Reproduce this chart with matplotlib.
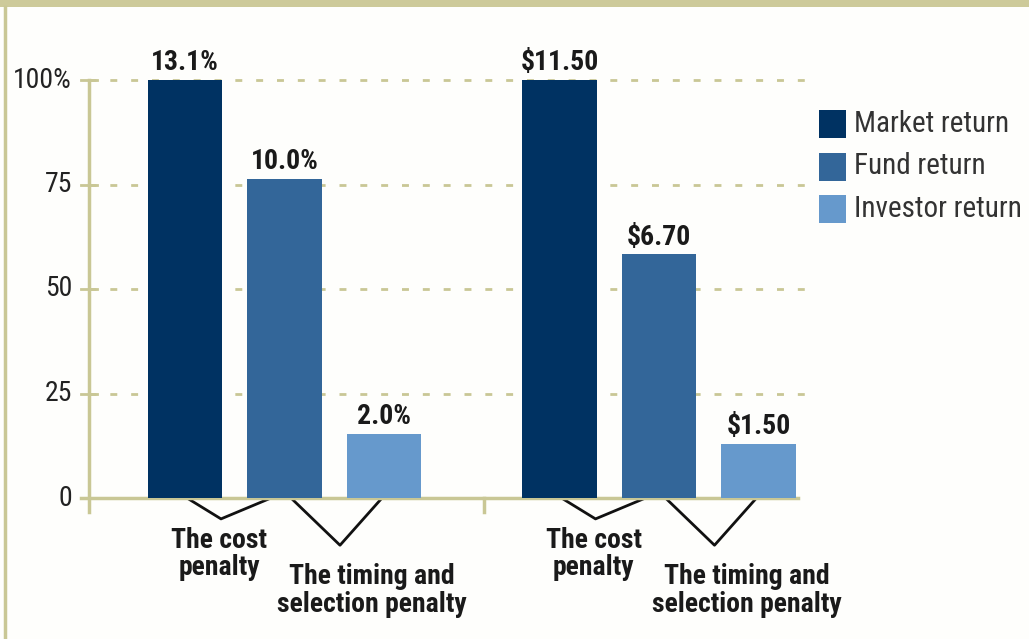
import matplotlib
matplotlib.use("Agg")
import matplotlib.pyplot as plt
from matplotlib.patches import Rectangle
import numpy as np

# indexed heights (market = 100)
series = ["Market return", "Fund return", "Investor return"]
pct_heights = [100, 76.3, 15.3]
pct_labels = ["13.1%", "10.0%", "2.0%"]
dollar_heights = [100, 58.3, 13.0]
dollar_labels = ["$11.50", "$6.70", "$1.50"]
yticks = [0, 25, 50, 75, 100]
ytick_labels = ["0", "25", "50", "75", "100%"]
penalties = ["The cost\npenalty", "The timing and\nselection penalty"]

colors = ["#003262", "#336699", "#6699cc"]
khaki = "#c9c795"
narrow = ["Roboto Condensed", "DejaVu Sans"]

fig = plt.figure(figsize=(10.29, 6.39), dpi=100)
fig.patch.set_facecolor("#fefefc")

# top band and left border
fig.add_artist(Rectangle((0, 1 - 7 / 639), 1, 7 / 639, transform=fig.transFigure,
                         color="#cdca9a", lw=0))
fig.add_artist(plt.Line2D([5 / 1029, 5 / 1029], [0, 1 - 7 / 639], transform=fig.transFigure,
                          color=khaki, lw=2.5))

ax = fig.add_axes((89 / 1029, 141 / 639, (810 - 89) / 1029, (498 - 80) / 639))
ax.set_facecolor("none")
ax.set_xlim(-0.96, 6.25)
ax.set_ylim(0, 100)
for s in ax.spines.values():
    s.set_visible(False)
ax.set_xticks([])
ax.set_yticks([])

group_x = [0.0, 3.745]
width = 0.745
for g, (heights, labels) in enumerate([(pct_heights, pct_labels), (dollar_heights, dollar_labels)]):
    xs = group_x[g] + np.arange(3) * 0.995
    ax.bar(xs, heights, width=width, color=colors, zorder=3)
    for x, h, lab in zip(xs, heights, labels):
        ax.text(x, h + 0.9, lab, ha="center", va="bottom", fontsize=20,
                fontweight="bold", family=narrow, color="#1a1a1a", zorder=4)

    # penalty brackets under the baseline
    x0 = group_x[g]
    ax.plot([x0 + 0.02, x0 + 0.36, x0 + 0.86], [0, -5, 0], color="#111111",
            lw=2, clip_on=False, zorder=2)
    ax.plot([x0 + 1.06, x0 + 1.55, x0 + 1.97], [0, -11.3, 0], color="#111111",
            lw=2, clip_on=False, zorder=2)
    ax.text(x0 + 0.34, -6.9, penalties[0], ha="center", va="top", fontsize=20,
            fontweight="bold", family=narrow, color="#1a1a1a", linespacing=1.02)
    ax.text(x0 + 1.87, -15.6, penalties[1], ha="center", va="top", fontsize=20,
            fontweight="bold", family=narrow, color="#1a1a1a", linespacing=1.02)

# gridlines, axes and ticks
for y, lab in zip(yticks, ytick_labels):
    if y > 0:
        ax.plot([-0.96, 6.25], [y, y], color=khaki, lw=2, ls=(0, (2.5, 5)),
                zorder=1, clip_on=False)
    ax.plot([-1.04, -0.88], [y, y], color=khaki, lw=2, clip_on=False, zorder=2)
    ax.text(-1.13, y, lab, ha="right", va="center", fontsize=20,
            family=narrow, color="#222222")
ax.plot([-1.04, 6.13], [0, 0], color=khaki, lw=2.5, clip_on=False, zorder=2)
ax.plot([-0.96, -0.96], [-3.4, 100], color=khaki, lw=2.5, clip_on=False, zorder=2)
ax.plot([2.99, 2.99], [-3.4, 0], color=khaki, lw=2.5, clip_on=False, zorder=2)

# legend
for i, (name, c) in enumerate(zip(series, colors)):
    top = 110 + i * 42.5
    fig.add_artist(Rectangle((819 / 1029, 1 - (top + 28) / 639), 27 / 1029, 28 / 639,
                             transform=fig.transFigure, color=c, lw=0))
    fig.text(854 / 1029, 1 - (top + 14) / 639, name, ha="left", va="center",
             fontsize=21, family=narrow, color="#333333")

fig.savefig("out.png", dpi=100, facecolor=fig.get_facecolor())
